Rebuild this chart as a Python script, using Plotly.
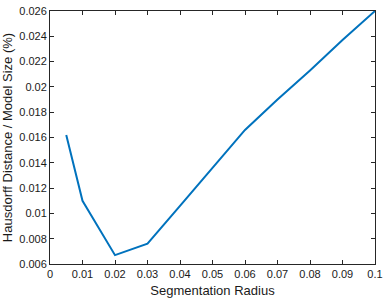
import plotly.graph_objects as go

radius = [0.005, 0.01, 0.02, 0.03, 0.04, 0.05, 0.06, 0.07, 0.08, 0.09, 0.1]
hausdorff = [0.0162, 0.0110, 0.0067, 0.0076, 0.0106, 0.0136, 0.0166, 0.0190, 0.0213, 0.0237, 0.0260]

x_ticks = [0, 0.01, 0.02, 0.03, 0.04, 0.05, 0.06, 0.07, 0.08, 0.09, 0.1]
x_labels = ["0", "0.01", "0.02", "0.03", "0.04", "0.05", "0.06", "0.07", "0.08", "0.09", "0.1"]
y_ticks = [0.006, 0.008, 0.01, 0.012, 0.014, 0.016, 0.018, 0.02, 0.022, 0.024, 0.026]
y_labels = ["0.006", "0.008", "0.01", "0.012", "0.014", "0.016", "0.018", "0.02", "0.022", "0.024", "0.026"]

fig = go.Figure()
fig.add_trace(go.Scatter(x=radius, y=hausdorff, mode="lines",
                         line=dict(color="#0072BD", width=2)))

axis_common = dict(showline=True, linecolor="#262626", linewidth=1, mirror="ticks",
                   ticks="inside", ticklen=4, tickcolor="#262626", showgrid=False,
                   zeroline=False, ticklabeloverflow="allow",
                   tickfont=dict(family="Liberation Sans, Arial", size=11, color="#1a1a1a"))

fig.update_layout(
    width=388, height=300,
    margin=dict(l=50, r=7, t=5, b=34),
    paper_bgcolor="white", plot_bgcolor="white",
    showlegend=False,
    xaxis=dict(range=[0, 0.1], tickmode="array", tickvals=x_ticks, ticktext=x_labels,
               title=dict(text="Segmentation Radius", standoff=6,
                          font=dict(family="Liberation Sans, Arial", size=13, color="#1a1a1a")),
               **axis_common),
    yaxis=dict(range=[0.006, 0.026], tickmode="array", tickvals=y_ticks, ticktext=y_labels,
               title=dict(text="Hausdorff Distance / Model Size (%)", standoff=4,
                          font=dict(family="Liberation Sans, Arial", size=13, color="#1a1a1a")),
               **axis_common),
)

fig.write_html("out.html", config={"displayModeBar": False})
with open("out.html", "r", encoding="utf-8") as f:
    html = f.read()
html = html.replace("<body>", '<body style="margin:0;padding:0;overflow:hidden">', 1)
with open("out.html", "w", encoding="utf-8") as f:
    f.write(html)
